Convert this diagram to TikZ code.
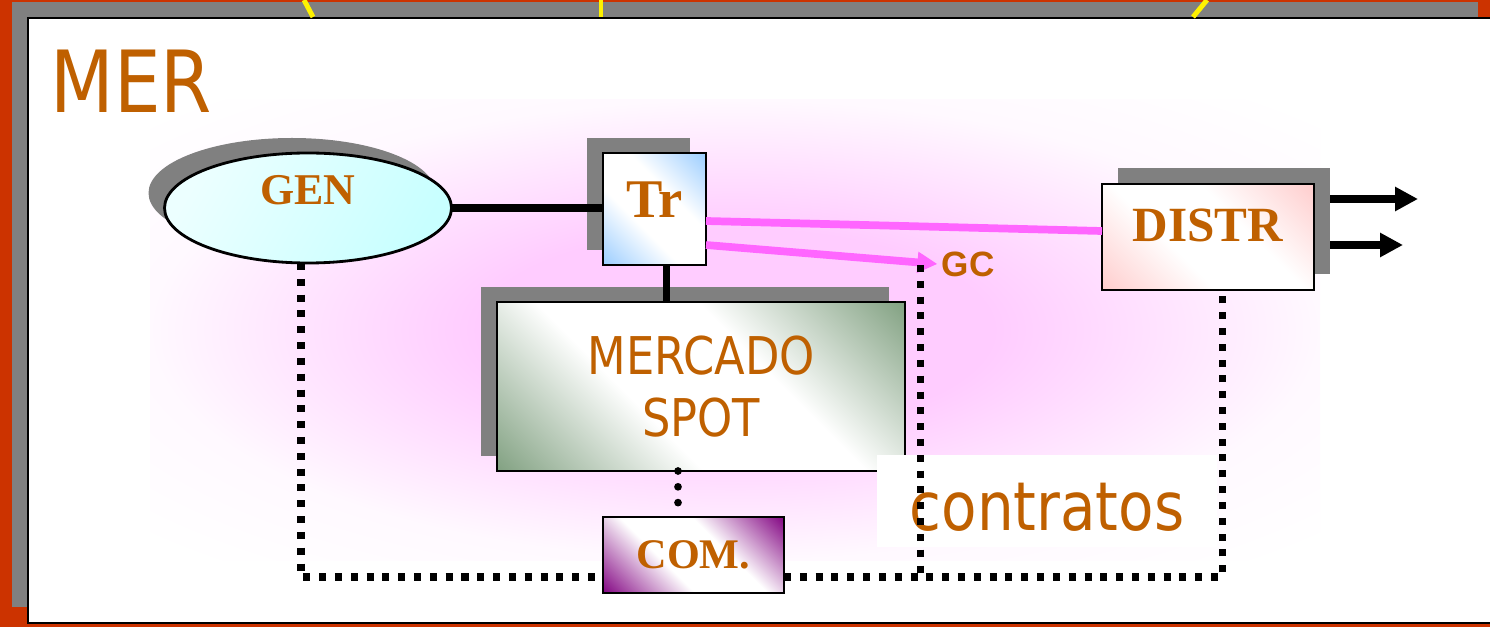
\documentclass[tikz,border=0pt]{standalone}
\usepackage{fontspec}
\setmainfont{Liberation Serif}
\newfontfamily\slidesans[FakeStretch=0.86]{DejaVu Sans}
\newfontfamily\labelsans{Liberation Sans}
\usetikzlibrary{shapes, shadows, arrows.meta}

\definecolor{framered}{RGB}{204,51,0}
\definecolor{framegray}{RGB}{128,128,128}
\definecolor{agentbrown}{RGB}{191,96,0}
\definecolor{flowpink}{RGB}{255,102,255}
\definecolor{marketpink}{RGB}{255,204,255}
\definecolor{gencyan}{RGB}{200,255,255}
\definecolor{trblue}{RGB}{153,204,255}
\definecolor{distpink}{RGB}{255,204,204}
\definecolor{spotgreen}{RGB}{127,159,127}
\definecolor{compurple}{RGB}{128,0,128}

% coloured corners, white band along the other diagonal
\colorlet{bandcolor}{white}
\pgfdeclarehorizontalshading[bandcolor]{diagband}{100bp}{color(0bp)=(bandcolor); color(14bp)=(bandcolor); color(40bp)=(white); color(60bp)=(white); color(86bp)=(bandcolor); color(100bp)=(bandcolor)}
% pink glow behind the market
\pgfdeclareradialshading{marketglow}{\pgfpoint{0bp}{0bp}}{color(0bp)=(marketpink); color(11bp)=(marketpink); color(25bp)=(marketpink!12!white); color(34bp)=(white); color(50bp)=(white)}

\begin{document}
\begin{tikzpicture}[
    box/.style = {draw, line width=0.8pt, inner sep=0pt, outer sep=0pt, text=agentbrown},
    band/.style = {/utils/exec={\colorlet{bandcolor}{#1}}, shading=diagband, shading angle=45},
    left shadow/.style = {general shadow={fill=framegray, shadow xshift=-0.16cm, shadow yshift=0.15cm}},
    right shadow/.style = {general shadow={fill=framegray, shadow xshift=0.16cm, shadow yshift=0.16cm}},
    link/.style = {line width=2.2pt},
    flow/.style = {flowpink, line width=2.2pt},
    outflow/.style = {line width=2.2pt, -{Triangle[length=0.23cm, width=0.23cm]}},
    contract/.style = {line width=2pt, dash pattern=on 2pt off 2.5pt},
    spotdots/.style = {line width=2.2pt, line cap=round, dash pattern=on 0pt off 4.5pt}]

    \useasboundingbox (0,0) rectangle (14.9,-6.27);
    \clip (0,0) rectangle (14.9,-6.27);

    % slide frame
    \fill[framered] (0,0) rectangle (14.9,-6.27);
    \fill[framegray] (0.12,-0.02) rectangle (14.78,-6.07);
    \draw[line width=0.6pt, fill=white] (0.28,-0.18) rectangle (15.0,-6.23);
    \draw[yellow, line width=1.4pt] (3.04,0) -- (3.13,-0.17);
    \draw[yellow, line width=1.4pt] (6.01,0) -- (6.01,-0.17);
    \draw[yellow, line width=1.4pt] (12.07,0) -- (11.93,-0.17);

    \shade[shading=marketglow] (1.5,-1.0) rectangle (13.2,-5.6);

    \node[anchor=base west, inner sep=0pt, text=agentbrown, font=\slidesans\fontsize{24.4}{29}\selectfont] (mer) at (0.50,-1.13) {MER};

    % agents
    \node[box, ellipse, left shadow, left color=gencyan!35, right color=gencyan, shading angle=60,
          minimum width=2.87cm, minimum height=1.10cm, text height=0.3cm, text depth=0.36cm,
          font=\bfseries\fontsize{12.5}{14}\selectfont] (gen) at (3.08,-2.08) {GEN};
    \node[box, band=trblue, left shadow, minimum width=1.03cm, minimum height=1.12cm,
          text height=0.37cm, text depth=0.2cm,
          font=\bfseries\fontsize{15.5}{18}\selectfont] (tr) at (6.545,-2.09) {Tr};
    \node[box, band=distpink, right shadow, minimum width=2.12cm, minimum height=1.06cm,
          text height=0.34cm, text depth=0.24cm,
          font=\bfseries\fontsize{14}{16}\selectfont] (distr) at (12.08,-2.37) {DISTR};
    \node[box, band=spotgreen, left shadow, minimum width=4.08cm, minimum height=1.69cm, align=center,
          font=\slidesans\fontsize{14.8}{17.8}\selectfont] (spot) at (7.01,-3.865) {MERCADO\\SPOT};
    \node[fill=white, inner sep=0pt, minimum width=3.40cm, minimum height=0.92cm, text=agentbrown,
          text height=0.62cm, text depth=0.04cm,
          font=\slidesans\fontsize{19.2}{23}\selectfont] (contr) at (10.47,-5.01) {contratos};
    \node[box, band=compurple, minimum width=1.81cm, minimum height=0.76cm,
          font=\bfseries\fontsize{12}{14}\selectfont] (com) at (6.935,-5.55) {COM.};
    \node[text=agentbrown, inner sep=1pt, font=\labelsans\bfseries\fontsize{10}{12}\selectfont] (gc) at (9.68,-2.64) {GC};

    % network links
    \draw[link] (gen.east) -- (gen.east -| tr.west);
    \draw[link] ([xshift=0.12cm]tr.south) -- ([xshift=0.12cm]tr.south |- spot.north);
    \draw[flow] ([yshift=-0.12cm]tr.east) -- ([yshift=0.06cm]distr.west);
    \draw[flow, -{Triangle[length=0.2cm, width=0.2cm]}] ([yshift=-0.36cm]tr.east) -- (gc.west);
    \draw[outflow] ([xshift=0.16cm, yshift=0.38cm]distr.east) -- ++(0.88,0);
    \draw[outflow] ([xshift=0.16cm, yshift=-0.08cm]distr.east) -- ++(0.73,0);

    % contracts
    \coordinate (bus) at ([yshift=-0.22cm]com.east);
    \coordinate (gcdrop) at (9.20,-2.65);
    \draw[contract] ([xshift=-0.07cm]gen.south) |- ([yshift=-0.22cm]com.west);
    \draw[contract] (bus) -| ([xshift=0.14cm]distr.south);
    \draw[contract] (gcdrop) -- (gcdrop |- bus);
    \draw[spotdots] ([xshift=-0.23cm]spot.south) -- ([xshift=-0.155cm]com.north);
\end{tikzpicture}
\end{document}
